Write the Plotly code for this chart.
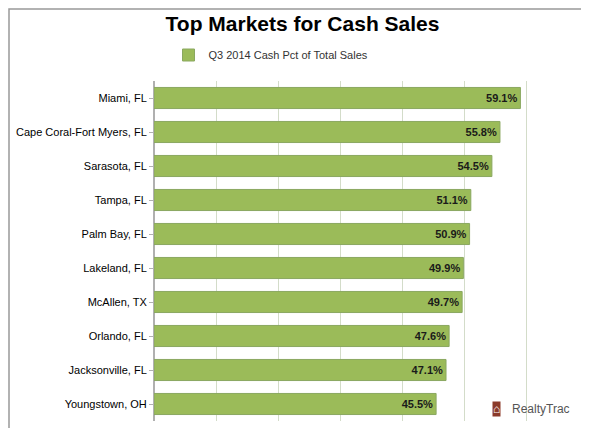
import plotly.graph_objects as go

markets = ['Miami, FL', 'Cape Coral-Fort Myers, FL', 'Sarasota, FL', 'Tampa, FL',
           'Palm Bay, FL', 'Lakeland, FL', 'McAllen, TX', 'Orlando, FL',
           'Jacksonville, FL', 'Youngstown, OH']
cash_pct = [59.1, 55.8, 54.5, 51.1, 50.9, 49.9, 49.7, 47.6, 47.1, 45.5]
series_name = 'Q3 2014 Cash Pct of Total Sales'

W, H = 589, 428
L, R, T, B = 146, 9, 73, 15
pw, ph = W - L - R, H - T - B

fig = go.Figure()
fig.add_trace(go.Bar(
    y=markets, x=cash_pct, orientation='h', name=series_name,
    marker=dict(color='#9bbb59', line=dict(color='#8aa860', width=1)),
    width=0.62,
    text=['<b>{:.1f}%</b>'.format(v) for v in cash_pct], textposition='inside',
    insidetextanchor='end', textfont=dict(family='Arial', size=11, color='#1a1a1a'),
))

fig.update_layout(
    width=W, height=H,
    paper_bgcolor='white', plot_bgcolor='white',
    margin=dict(l=L, r=R, t=T, b=B, autoexpand=False),
    title=dict(text='<b>Top Markets for Cash Sales</b>', x=0.5, xanchor='center',
               y=1 - 8 / H, yanchor='top', font=dict(family='Arial', size=21, color='black')),
    showlegend=True,
    legend=dict(orientation='h', x=0.5 - 100 / pw, xanchor='center', y=1 + 26 / ph, yanchor='middle',
                font=dict(family='Arial', size=11, color='#333')),
    font=dict(family='Arial'),
)
fig.update_xaxes(range=[0, 70], dtick=10, showticklabels=False, showgrid=True,
                 gridcolor='#d3dcc9', zeroline=True, zerolinecolor='#b0b0b0')
fig.update_yaxes(autorange='reversed', automargin=False,
                 tickfont=dict(family='Arial', size=11, color='black'),
                 ticks='outside', tickcolor='#b0b0b0', ticklen=4, showline=True,
                 linecolor='#b0b0b0')

# RealtyTrac logo text
fig.add_annotation(text='<b>⌂</b>', x=0.80, y=0.012, xref='paper', yref='paper',
                   showarrow=False, font=dict(size=12, color='white'),
                   bgcolor='#8b3a2a', borderpad=0)
fig.add_annotation(text='RealtyTrac', x=0.82, y=0.01, xref='paper', yref='paper',
                   xanchor='left', showarrow=False,
                   font=dict(family='Liberation Sans Narrow, Arial', size=12, color='#555'))

# outer border
fig.add_shape(type='rect', xref='paper', yref='paper',
              x0=-(L - 1) / pw, x1=1 + (R - 2) / pw,
              y0=-(B - 2) / ph, y1=1 + (T - 1) / ph, line=dict(color='#999', width=1.5))

fig.write_html('out.html')
